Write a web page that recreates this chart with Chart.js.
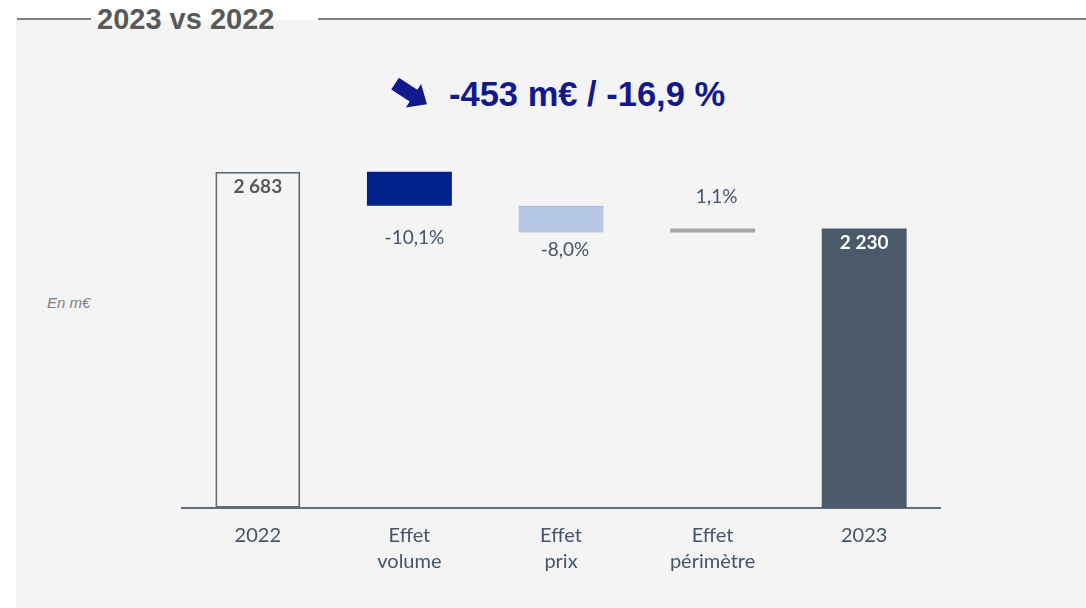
<!DOCTYPE html>
<html>
<head>
<meta charset="utf-8">
<script src="https://cdn.jsdelivr.net/npm/chart.js@4.4.1/dist/chart.umd.min.js"></script>
<style>
  html, body { margin: 0; padding: 0; background: #ffffff; }
  #page { position: relative; width: 1086px; height: 608px; overflow: hidden; }
  #panel { position: absolute; left: 16px; top: 20px; right: 0; bottom: 0; background: #f4f4f4; }
  .rule { position: absolute; top: 18px; height: 2px; background: #7f7f7f; }
  #title { position: absolute; left: 97px; top: 5px; font: bold 29px/29px "Liberation Sans", Arial, sans-serif; color: #595959; white-space: nowrap; }
  #headline { position: absolute; left: 449px; top: 77px; font: bold 34.5px/34px "Liberation Sans", Arial, sans-serif; color: #12198c; white-space: nowrap; }
  #arrow { position: absolute; left: 388px; top: 74px; }
  #unit { position: absolute; left: 47px; top: 294px; font: italic 15px "Liberation Sans", Arial, sans-serif; color: #7f7f7f; }
  #chart { position: absolute; left: 0; top: 0; }
</style>
</head>
<body>
<div id="page">
  <div id="panel"></div>
  <div class="rule" style="left:17px; width:74px;"></div>
  <div class="rule" style="left:318px; right:0;"></div>
  <div id="title">2023 vs 2022</div>
  <svg id="arrow" width="46" height="40" viewBox="0 0 46 40">
    <polygon points="4,13 26,13 26,6 42,20 26,34 26,27 4,27" fill="#12198c" transform="rotate(33 23 20)"/>
  </svg>
  <div id="headline">-453 m€ / -16,9 %</div>
  <div id="unit">En m€</div>
  <canvas id="chart" width="1086" height="608"></canvas>
</div>
<script>
// waterfall data (m€)
const categories = [["2022"], ["Effet", "volume"], ["Effet", "prix"], ["Effet", "périmètre"], ["2023"]];
const startValue = 2683;
const effects = [-271, -214, 32];
const endValue = 2230;
const valueLabels = ["2 683", "-10,1%", "-8,0%", "1,1%", "2 230"];

// styles per bar
const fillColors = ["#f4f4f4", "#00218a", "#b4c7e7", "#a6a6a6", "#4a5a68"];
const borderColors = ["#5d6c78", "#00218a", "#8ea4c8", "#a6a6a6", "#4a5a68"];
const borderWidths = [2, 0, 1, 0, 0];
const labelPlace = ["inside", "below", "below", "above", "inside"];
const labelGap = [15, 32, 17, 32, 14];
const labelShift = [0, 5, 4, 4, 0];
const labelColors = ["#595959", "#44546a", "#44546a", "#44546a", "#ffffff"];
const labelBold = [true, false, false, false, true];

// build floating ranges
const ranges = [[0, startValue]];
let running = startValue;
effects.forEach((d) => {
  ranges.push([Math.min(running, running + d), Math.max(running, running + d)]);
  running += d;
});
ranges.push([0, endValue]);

const valueLabelPlugin = {
  id: "valueLabels",
  afterDatasetsDraw(chart) {
    const ctx = chart.ctx;
    const meta = chart.getDatasetMeta(0);
    ctx.save();
    ctx.textAlign = "center";
    ctx.textBaseline = "middle";
    meta.data.forEach((bar, i) => {
      const top = Math.min(bar.y, bar.base);
      const bottom = Math.max(bar.y, bar.base);
      let y;
      if (labelPlace[i] === "inside") y = top + labelGap[i];
      else if (labelPlace[i] === "below") y = bottom + labelGap[i];
      else y = top - labelGap[i];
      ctx.font = (labelBold[i] ? "bold " : "") + "19px Lato, 'Open Sans', sans-serif";
      ctx.fillStyle = labelColors[i];
      ctx.fillText(valueLabels[i], bar.x + labelShift[i], y);
    });
    ctx.restore();
  },
};

new Chart(document.getElementById("chart"), {
  type: "bar",
  data: {
    labels: categories,
    datasets: [
      {
        data: ranges,
        backgroundColor: fillColors,
        borderColor: borderColors,
        borderWidth: borderWidths,
        borderSkipped: false,
        barPercentage: 0.56,
        categoryPercentage: 1,
      },
    ],
  },
  options: {
    responsive: false,
    animation: false,
    layout: { padding: { left: 182, right: 146, top: 132, bottom: 0 } },
    plugins: {
      legend: { display: false },
      title: { display: false },
      tooltip: { enabled: false },
    },
    scales: {
      x: {
        grid: { display: false, drawTicks: false },
        border: { display: true, color: "#5f6e7a", width: 2 },
        ticks: {
          color: "#44546a",
          font: { family: "Lato, 'Open Sans', sans-serif", size: 20, lineHeight: "26px" },
          padding: 15,
          maxRotation: 0,
        },
        afterFit(scale) {
          scale.height = 100;
        },
      },
      y: {
        display: false,
        min: 0,
        max: 3000,
      },
    },
  },
  plugins: [valueLabelPlugin],
});
</script>
</body>
</html>
